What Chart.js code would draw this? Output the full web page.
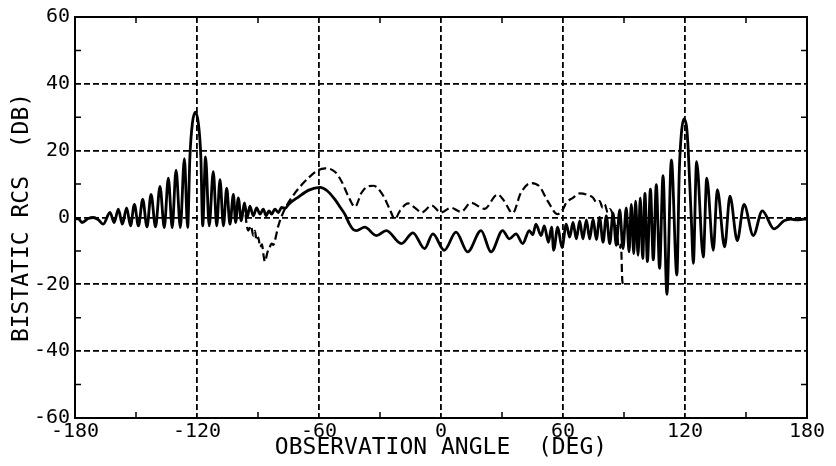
<!DOCTYPE html>
<html>
<head>
<meta charset="utf-8">
<script src="https://cdn.jsdelivr.net/npm/chart.js@4/dist/chart.umd.min.js"></script>
<style>
  html, body { margin: 0; padding: 0; background: #fff; }
  #wrap { width: 836px; height: 466px; }
</style>
</head>
<body>
<div id="wrap"><canvas id="rcsChart"></canvas></div>
<script>
// observation angle (deg) / bistatic RCS (dB)
var solidAngle = [
  -180, -178.5, -176.5, -173.5, -171, -168.5, -166.1, -162.8, -160.7, -158.7,
  -156.7, -154.6, -152.7, -150.8, -148.8, -146.7, -144.6, -142.6, -140.4, -138.2,
  -136.1, -134.1, -132.2, -130.3, -128.2, -126.2, -124.6, -123.5, -122.3, -120.8,
  -119.3, -118.1, -117.2, -115.8, -114, -112, -110.3, -108.7, -107, -105.4,
  -103.8, -102.1, -101, -99.7, -98.2, -96.7, -95.3, -94, -92.3, -90.7,
  -89, -87.4, -86, -84.6, -83.3, -81.7, -80, -78.4, -76.5, -75,
  -70, -65, -59.5, -56, -52.2, -49.5, -47.3, -45, -43.2, -41.6,
  -37.5, -31.8, -26.9, -19.5, -13.8, -8.1, -4, 1.6, 7.4, 13.1,
  19.7, 24.6, 30.3, 33.6, 36.9, 40.2, 43.4, 45.1, 46.7, 49.2,
  50.8, 52.8, 54.4, 55.4, 57.4, 59.5, 61.6, 63.3, 64.9, 66.6,
  68.2, 69.8, 71.5, 73.1, 74.8, 76.4, 78, 79.7, 81.3, 83,
  84.6, 86.2, 87.9, 89.5, 91.1, 92.5, 93.6, 94.8, 95.7, 96.9,
  98, 99.2, 100.3, 101.5, 103, 104.4, 105.9, 107.5, 109.2, 111.1,
  113.3, 116, 117.2, 118.2, 119.5, 120.8, 121.6, 123.2, 124.1, 125.7,
  129, 130.7, 133.9, 135.9, 139.5, 142.1, 145.7, 149, 153.6, 158,
  163.8, 168.7, 172, 175.2, 178.5, 180
];
var solidRcs = [
  -0.5, -0.3, -1.5, -0.3, 0, -0.7, -2, 1.5, -1.5, 2.5,
  -2, 2.9, -2.5, 3.9, -2.5, 5.4, -2.8, 6.9, -2.8, 9.3,
  -3, 11.8, -3, 14.2, -3, 17.6, -3, 18, 28, 31.5,
  28, 18, -2.5, 18.1, -2.5, 13.7, -2.5, 11.3, -2.5, 8.8,
  -2, 6.9, -1.5, 5.9, -1, 4.4, 0, 3.4, 0.5, 2.9,
  1, 2.5, 0.5, 2, 1, 2.5, 1.5, 3, 2.8, 3.9,
  6.2, 8.2, 9, 8, 5.4, 3, 1, -2, -3.6, -3.9,
  -2.9, -5.4, -3.9, -7.8, -4.6, -9.3, -4.9, -9.8, -4.4, -10.3,
  -3.9, -10.3, -3.9, -6.4, -4.9, -7.8, -3.9, -5.2, -2, -5.4,
  -2.5, -7.4, -2.9, -9.8, -2.9, -9, -2, -5.9, -1.5, -6.4,
  -1, -6.4, -0.7, -6.4, -0.5, -6.6, 0, -7.4, 0.5, -7.8,
  1.3, -8.3, 2.3, -9.3, 2.9, -10.3, 3.9, -10.8, 4.9, -11.3,
  5.9, -12.3, 7.2, -13.2, 8.5, -12.7, 9.8, -15.2, 12.5, -23,
  17.2, -17.2, 14, 25, 29.5, 27, 20, -2, -13.7, 16.7,
  -11.8, 11.8, -9.8, 8.3, -8.8, 6.4, -6.9, 3.9, -5.4, 2,
  -3.4, -1, -0.5, -0.7, -0.5, -0.5
];
var dashAngle = [
  -96.7, -95.6, -94.8, -93.5, -92.3, -91.5, -90.7, -89.8, -89, -88,
  -87.4, -86.6, -85.3, -84.3, -83.3, -82.5, -81.7, -80, -77.6, -73.5,
  -68.5, -64.4, -60.3, -57, -52.2, -48.9, -45.6, -42.3, -39.1, -36,
  -33.3, -29.3, -25.2, -22.7, -20.2, -16.1, -12.8, -9.5, -4.6, 0,
  4.9, 9.8, 14.8, 21.3, 27.9, 31.1, 35.2, 39.3, 44.3, 48.4,
  52.5, 57.4, 60, 61.6, 64.9, 68.2, 71.5, 74.8, 76.5, 78,
  79.5, 80.5, 82, 83, 84.6, 85.3, 85.9, 86.5, 87, 87.9,
  88.5, 89.2, 89.8
];
var dashRcs = [
  4.4, -2, -3.9, -2.5, -5.4, -4, -6.9, -6, -8.8, -8,
  -10.8, -13.2, -10.3, -9, -7.8, -8.2, -6.9, -2.5, 1.5, 5.9,
  9.8, 12.3, 14.2, 14.7, 13.7, 10.8, 6.4, 3.2, 7.4, 9.3,
  9.5, 7.4, 2.5, -0.5, 2, 4.2, 2.9, 1.5, 3.6, 1.5,
  2.9, 1.7, 4.4, 2.6, 6.9, 4.9, 1.3, 7.4, 10.3, 9.3,
  4.9, 1, 2.5, 4.4, 5.9, 7.2, 6.9, 5.9, 4.5, 4.9,
  3, 3.9, 1.5, 2.5, 0.5, -2, -3.4, -2.5, -7.4, -9.3,
  -8, -19.1, -20
];
var angleTicks = [-180, -120, -60, 0, 60, 120, 180];
var rcsTicks = [-60, -40, -20, 0, 20, 40, 60];

function toPoints(xs, ys) {
  return xs.map(function(x, i) { return { x: x, y: ys[i] }; });
}

// frame + small minor ticks along the four edges
var framePlugin = {
  id: 'frame',
  afterDraw: function(chart) {
    var ctx = chart.ctx, a = chart.chartArea;
    var xs = chart.scales.x, ys = chart.scales.y;
    ctx.save();
    ctx.strokeStyle = '#000';
    ctx.lineWidth = 2;
    ctx.setLineDash([]);
    ctx.strokeRect(a.left, a.top, a.right - a.left, a.bottom - a.top);
    ctx.lineWidth = 1.5;
    ctx.beginPath();
    for (var v = -150; v < 180; v += 60) {
      var px = xs.getPixelForValue(v);
      ctx.moveTo(px, a.bottom); ctx.lineTo(px, a.bottom - 6);
      ctx.moveTo(px, a.top); ctx.lineTo(px, a.top + 6);
    }
    for (var w = -50; w < 60; w += 20) {
      var py = ys.getPixelForValue(w);
      ctx.moveTo(a.left, py); ctx.lineTo(a.left + 6, py);
      ctx.moveTo(a.right, py); ctx.lineTo(a.right - 6, py);
    }
    ctx.stroke();
    ctx.restore();
  }
};

var tickFont = { family: 'DejaVu Sans Mono', size: 20 };
var titleFont = { family: 'DejaVu Sans Mono', size: 23 };

new Chart(document.getElementById('rcsChart'), {
  type: 'line',
  data: {
    datasets: [
      {
        label: 'solid',
        data: toPoints(solidAngle, solidRcs),
        borderColor: '#000',
        borderWidth: 2.8,
        pointRadius: 0,
        cubicInterpolationMode: 'monotone',
        fill: false
      },
      {
        label: 'dashed',
        data: toPoints(dashAngle, dashRcs),
        borderColor: '#000',
        borderWidth: 2.2,
        borderDash: [8, 4],
        pointRadius: 0,
        cubicInterpolationMode: 'monotone',
        fill: false
      }
    ]
  },
  options: {
    responsive: true,
    maintainAspectRatio: false,
    animation: false,
    layout: { padding: { top: 12, right: 29, left: 0, bottom: 0 } },
    plugins: {
      legend: { display: false },
      tooltip: { enabled: false }
    },
    scales: {
      x: {
        type: 'linear',
        min: -180,
        max: 180,
        afterFit: function(s) { s.height = 48; },
        afterBuildTicks: function(s) { s.ticks = angleTicks.map(function(v) { return { value: v }; }); },
        ticks: { font: tickFont, color: '#000', padding: 2, maxRotation: 0 },
        grid: { color: '#000', lineWidth: 1.8, drawTicks: false },
        border: { display: false, dash: [6, 3] },
        title: {
          display: true,
          text: 'OBSERVATION ANGLE  (DEG)',
          font: titleFont,
          color: '#000',
          padding: { top: 0, bottom: 4 }
        }
      },
      y: {
        min: -60,
        max: 60,
        afterFit: function(s) { s.width = 75; },
        afterBuildTicks: function(s) { s.ticks = rcsTicks.map(function(v) { return { value: v }; }); },
        ticks: { font: tickFont, color: '#000', padding: 5 },
        grid: { color: '#000', lineWidth: 1.8, drawTicks: false },
        border: { display: false, dash: [6, 3] },
        title: {
          display: true,
          text: 'BISTATIC RCS  (DB)',
          font: titleFont,
          color: '#000',
          padding: { top: 8, bottom: 0 }
        }
      }
    }
  },
  plugins: [framePlugin]
});
</script>
</body>
</html>
